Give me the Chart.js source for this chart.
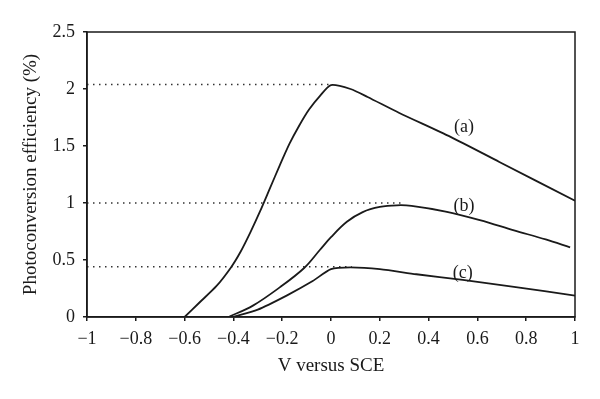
<!DOCTYPE html>
<html>
<head>
<meta charset="utf-8">
<script src="https://cdn.jsdelivr.net/npm/chart.js@4.4.1/dist/chart.umd.min.js"></script>
<style>
  body { margin: 0; background: #fff; }
  #wrap { width: 600px; height: 399px; }
</style>
</head>
<body>
<div id="wrap"><canvas id="effChart"></canvas></div>
<script>
// curve (a)
const aVolt = [-0.6, -0.54, -0.47, -0.41, -0.37, -0.33, -0.29, -0.25, -0.21, -0.17, -0.13, -0.09, -0.045, 0, 0.08, 0.15, 0.28, 0.49, 0.69, 1.0];
const aEff  = [0, 0.125, 0.27, 0.435, 0.575, 0.745, 0.93, 1.13, 1.33, 1.52, 1.68, 1.82, 1.94, 2.035, 2.0, 1.93, 1.79, 1.58, 1.36, 1.02];
// curve (b)
const bVolt = [-0.42, -0.32, -0.21, -0.11, -0.045, 0, 0.065, 0.13, 0.2, 0.27, 0.33, 0.47, 0.61, 0.75, 0.88, 0.98];
const bEff  = [0, 0.1, 0.26, 0.43, 0.59, 0.70, 0.835, 0.92, 0.965, 0.98, 0.975, 0.925, 0.85, 0.76, 0.68, 0.61];
// curve (c)
const cVolt = [-0.405, -0.3, -0.18, -0.075, 0, 0.08, 0.2, 0.35, 0.54, 0.75, 1.0];
const cEff  = [0, 0.065, 0.19, 0.315, 0.42, 0.435, 0.42, 0.375, 0.325, 0.265, 0.187];

// dotted guide lines (level, where it stops)
const guideLevels = [2.04, 1.0, 0.44];
const guideEnds = [0, 0.285, 0.085];

const curveNames = ['(a)', '(b)', '(c)'];

const toPoints = (xs, ys) => xs.map((x, i) => ({ x: x, y: ys[i] }));
const fmt = v => String(Math.round(v * 10) / 10).replace('-', '\u2212');

const serif = '"Liberation Serif", "DejaVu Serif", serif';
const ink = '#1a1a1a';

const curveLine = (name, pts, tension) => ({
    label: name,
    data: pts,
    borderColor: ink,
    borderWidth: 1.8,
    pointRadius: 0,
    tension: tension,
    fill: false
});

const datasets = [
    curveLine(curveNames[0], toPoints(aVolt, aEff), 0.25),
    curveLine(curveNames[1], toPoints(bVolt, bEff), 0.35),
    curveLine(curveNames[2], toPoints(cVolt, cEff), 0.25)
];
guideLevels.forEach((lvl, i) => {
    datasets.push({
        label: 'guide' + i,
        data: [{ x: -1, y: lvl }, { x: guideEnds[i], y: lvl }],
        borderColor: '#333',
        borderWidth: 1.5,
        borderDash: [1.5, 4.5],
        pointRadius: 0,
        tension: 0
    });
});

// frame round the plot, and the (a)/(b)/(c) labels
const labelSpots = [{ x: 0.545, y: 1.66 }, { x: 0.545, y: 0.975 }, { x: 0.54, y: 0.385 }];
const extras = {
    id: 'extras',
    afterDraw(chart) {
        const { ctx, chartArea: a, scales } = chart;
        ctx.save();
        ctx.strokeStyle = ink;
        ctx.lineWidth = 1.5;
        ctx.strokeRect(a.left, a.top, a.right - a.left, a.bottom - a.top);
        ctx.fillStyle = ink;
        ctx.font = '18px ' + serif;
        ctx.textAlign = 'center';
        ctx.textBaseline = 'middle';
        curveNames.forEach((n, i) => {
            ctx.fillText(n, scales.x.getPixelForValue(labelSpots[i].x), scales.y.getPixelForValue(labelSpots[i].y));
        });
        ctx.restore();
    }
};

new Chart(document.getElementById('effChart'), {
    type: 'line',
    data: { datasets: datasets },
    plugins: [extras],
    options: {
        responsive: true,
        maintainAspectRatio: false,
        animation: false,
        layout: { padding: { top: 32, right: 25, left: 0, bottom: 0 } },
        plugins: { legend: { display: false }, tooltip: { enabled: false } },
        scales: {
            x: {
                type: 'linear',
                min: -1,
                max: 1,
                afterFit: s => { s.height = 82; },
                ticks: { stepSize: 0.2, callback: fmt, color: ink, font: { family: serif, size: 18 }, padding: 7, maxRotation: 0 },
                grid: { drawOnChartArea: false, drawTicks: true, tickLength: 4, color: ink, lineWidth: 1.5 },
                border: { display: true, color: ink, width: 1.5 },
                title: { display: true, text: 'V versus SCE', color: ink, font: { family: serif, size: 19 }, padding: { bottom: 22 } }
            },
            y: {
                min: 0,
                max: 2.5,
                afterFit: s => { s.width = 87; },
                ticks: { stepSize: 0.5, callback: fmt, color: ink, font: { family: serif, size: 18 }, padding: 8 },
                grid: { drawOnChartArea: false, drawTicks: true, tickLength: 4, color: ink, lineWidth: 1.5 },
                border: { display: true, color: ink, width: 1.5 },
                title: { display: true, text: 'Photoconversion efficiency (%)', color: ink, font: { family: serif, size: 19 }, padding: { top: 20 } }
            }
        }
    }
});
</script>
</body>
</html>
